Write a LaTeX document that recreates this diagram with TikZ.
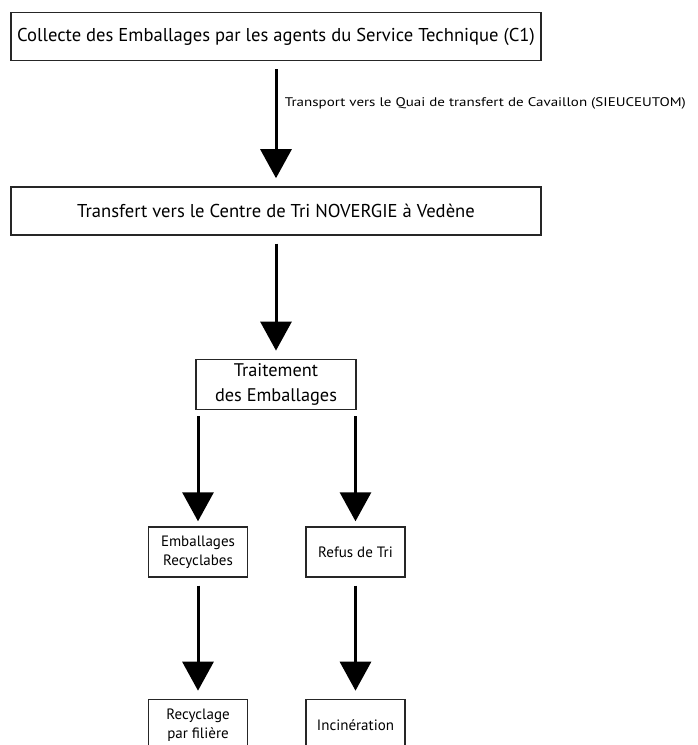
\documentclass[tikz,border=0pt]{standalone}
\usepackage{fontspec}
\setmainfont{PT Sans}
\newfontfamily\widefont[FakeStretch=1.2]{PT Sans}
\usetikzlibrary{positioning}
\usetikzlibrary{arrows.meta}

\begin{document}
\begin{tikzpicture}[x=1pt, y=-1pt,
  box/.style = {draw=black!85, line width=1.4pt, align=center, inner sep=2pt},
  bigbox/.style = {box, minimum width=530pt, minimum height=48pt, font=\fontsize{18.6}{22}\selectfont},
  midbox/.style = {box, minimum width=160pt, minimum height=50pt, font=\fontsize{18.3}{24.5}\selectfont},
  smallbox/.style = {box, minimum width=99pt, minimum height=50pt, font=\fontsize{15}{19}\selectfont},
  flow/.style = {line width=3pt, -{Triangle[width=31pt,length=29pt]}, shorten <=8pt, shorten >=8pt}]
  \clip (0,0) rectangle (698,745);
  \node[bigbox](collecte) at (276,36.5) {Collecte des Emballages par les agents du Service Technique (C1)};
  \node[bigbox](transfert)[below=125pt of collecte]{Transfert vers le Centre de Tri NOVERGIE à Vedène};
  \node[midbox](traitement)[below=123pt of transfert]{Traitement\\des Emballages};
  \node[smallbox](recyclables) at (198,552) {Emballages\\Recyclabes};
  \node[smallbox](refus) at (355.5,552) {Refus de Tri};
  \node[smallbox, minimum height=52pt](filiere)[below=121pt of recyclables]{Recyclage\\par filière};
  \node[smallbox, minimum height=52pt](incineration)[below=121pt of refus]{Incinération};
  % liaisons
  \draw[flow] (collecte) -- node[anchor=west, pos=0.34, xshift=4pt, font=\widefont\fontsize{12.5}{14}\selectfont]{Transport vers le Quai de transfert de Cavaillon (SIEUCEUTOM)} (transfert);
  \draw[flow] (transfert) -- (traitement);
  \draw[flow, shorten <=6pt, shorten >=5pt] (recyclables |- traitement.south) -- (recyclables);
  \draw[flow, shorten <=6pt, shorten >=5pt] (refus |- traitement.south) -- (refus);
  \draw[flow] (recyclables) -- (filiere);
  \draw[flow] (refus) -- (incineration);
\end{tikzpicture}
\end{document}
